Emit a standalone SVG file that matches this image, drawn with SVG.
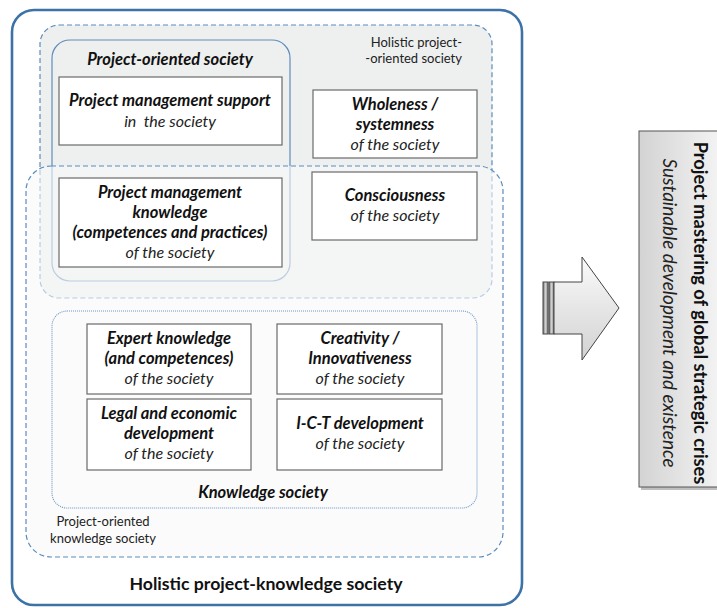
<svg xmlns="http://www.w3.org/2000/svg" width="717" height="608" viewBox="0 0 717 608">
<defs>
<linearGradient id="gArrow" x1="0" y1="0" x2="0" y2="1">
<stop offset="0" stop-color="#fafafa"/>
<stop offset="1" stop-color="#d2d2d2"/>
</linearGradient>
<linearGradient id="gBox" x1="0" y1="0" x2="1" y2="0">
<stop offset="0" stop-color="#d3d3d3"/>
<stop offset="1" stop-color="#f3f3f3"/>
</linearGradient>
<linearGradient id="gBar" x1="0" y1="0" x2="1" y2="0">
<stop offset="0" stop-color="#7a7a7a"/>
<stop offset="0.5" stop-color="#cfcfcf"/>
<stop offset="1" stop-color="#8a8a8a"/>
</linearGradient>
</defs>
<style>
text{font-family:Lato,"Liberation Sans",sans-serif;fill:#111;}
.bi{font-weight:bold;font-style:italic;font-size:16.5px;}
.it{font-style:italic;font-size:16px;fill:#222;}
.sm{font-size:13px;fill:#222;}
.box{fill:#fff;stroke:#6a6a6a;stroke-width:1.2;}
.dash{fill:none;stroke:#5b8cbf;stroke-width:1.2;stroke-dasharray:5 3;}
</style>
<rect width="717" height="608" fill="#fff"/>

<g id="holistic-project-knowledge-society">
<rect x="12" y="10" width="510" height="595" rx="22" fill="#fff" stroke="#3d72a6" stroke-width="2.6"/>
<text x="266" y="590" text-anchor="middle" style="font-weight:bold;font-size:17.7px;">Holistic project-knowledge society</text>
</g>

<g id="holistic-project-oriented-society">
<rect x="40" y="25" width="452" height="273" rx="19" class="dash" style="fill:#eef0f0"/>
<text x="462" y="47" text-anchor="end" class="sm">Holistic project-</text>
<text x="462" y="63" text-anchor="end" class="sm">-oriented society</text>
</g>

<g id="project-oriented-society">
<rect x="52" y="40" width="238" height="241" rx="18" fill="none" stroke="#5f8dbd" stroke-width="1.2"/>
<text x="170" y="65" text-anchor="middle" class="bi">Project-oriented society</text>
</g>

<g id="project-oriented-knowledge-society">
<rect x="26" y="166" width="477" height="391" rx="25" class="dash" style="fill:#f9f9f9;fill-opacity:0.6"/>
<text x="103" y="526" text-anchor="middle" class="sm">Project-oriented</text>
<text x="103" y="543" text-anchor="middle" class="sm">knowledge society</text>
</g>

<g id="knowledge-society">
<rect x="52" y="311" width="425" height="197" rx="15" fill="none" stroke="#6b97c6" stroke-width="1.1" stroke-dasharray="1 1"/>
<text x="263" y="498" text-anchor="middle" class="bi">Knowledge society</text>
</g>

<g id="pm-support">
<rect x="59" y="77" width="223" height="68" class="box"/>
<text x="170" y="106" text-anchor="middle" class="bi">Project management support</text>
<text x="170" y="127" text-anchor="middle" class="it" xml:space="preserve">in  the society</text>
</g>

<g id="pm-knowledge">
<rect x="59" y="178" width="223" height="89" class="box"/>
<text x="170" y="198" text-anchor="middle" class="bi">Project management</text>
<text x="170" y="218" text-anchor="middle" class="bi">knowledge</text>
<text x="170" y="238" text-anchor="middle" class="bi">(competences and practices)</text>
<text x="170" y="258" text-anchor="middle" class="it">of the society</text>
</g>

<g id="wholeness">
<rect x="313" y="90" width="164" height="68" class="box"/>
<text x="395" y="110" text-anchor="middle" class="bi">Wholeness /</text>
<text x="395" y="130" text-anchor="middle" class="bi">systemness</text>
<text x="395" y="150" text-anchor="middle" class="it">of the society</text>
</g>

<g id="consciousness">
<rect x="312" y="172" width="165" height="68" class="box"/>
<text x="395" y="201" text-anchor="middle" class="bi">Consciousness</text>
<text x="395" y="221" text-anchor="middle" class="it">of the society</text>
</g>

<g id="expert-knowledge">
<rect x="87" y="324" width="164" height="70" class="box"/>
<text x="169" y="344" text-anchor="middle" class="bi">Expert knowledge</text>
<text x="169" y="364" text-anchor="middle" class="bi">(and competences)</text>
<text x="169" y="384" text-anchor="middle" class="it">of the society</text>
</g>

<g id="legal-economic">
<rect x="87" y="399" width="164" height="71" class="box"/>
<text x="169" y="419" text-anchor="middle" class="bi">Legal and economic</text>
<text x="169" y="439" text-anchor="middle" class="bi">development</text>
<text x="169" y="459" text-anchor="middle" class="it">of the society</text>
</g>

<g id="creativity">
<rect x="277" y="324" width="165" height="70" class="box"/>
<text x="360" y="344" text-anchor="middle" class="bi">Creativity /</text>
<text x="360" y="364" text-anchor="middle" class="bi">Innovativeness</text>
<text x="360" y="384" text-anchor="middle" class="it">of the society</text>
</g>

<g id="ict-development">
<rect x="277" y="399" width="165" height="71" class="box"/>
<text x="360" y="429" text-anchor="middle" class="bi">I-C-T development</text>
<text x="360" y="449" text-anchor="middle" class="it">of the society</text>
</g>

<g id="connectors">
<rect x="543" y="282" width="5" height="52" fill="url(#gBar)" stroke="#444" stroke-width="1"/>
<rect x="549" y="282" width="5" height="52" fill="url(#gBar)" stroke="#444" stroke-width="1"/>
<path d="M554,282 H582 V257 L619,308 L582,360 V334 H554 Z" fill="url(#gArrow)" stroke="#444" stroke-width="1"/>
</g>

<g id="global-crises">
<rect x="641" y="133" width="80" height="357" fill="#000" fill-opacity="0.25"/>
<rect x="639" y="131" width="80" height="356" fill="url(#gBox)" stroke="#555" stroke-width="1"/>
<text transform="translate(694,313) rotate(90)" text-anchor="middle" style="font-weight:bold;font-size:18.3px;">Project mastering of global strategic crises</text>
<text transform="translate(663,313) rotate(90)" text-anchor="middle" style="font-style:italic;font-size:19px;fill:#222;">Sustainable development and existence</text>
</g>
</svg>
